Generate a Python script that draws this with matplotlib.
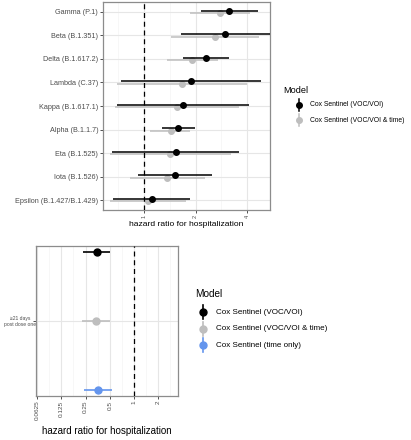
import numpy as np
import matplotlib
matplotlib.use("Agg")
import matplotlib.pyplot as plt
from matplotlib.lines import Line2D

plt.rcParams['font.family'] = ['Liberation Sans', 'DejaVu Sans']

# ---------------- data: top panel ----------------
variants = ["Gamma (P.1)", "Beta (B.1.351)", "Delta (B.1.617.2)", "Lambda (C.37)",
            "Kappa (B.1.617.1)", "Alpha (B.1.1.7)", "Eta (B.1.525)", "Iota (B.1.526)",
            "Epsilon (B.1.427/B.1.429)"]
voc_hr = [3.15, 2.96, 2.30, 1.87, 1.70, 1.59, 1.53, 1.51, 1.11]
voc_lo = [2.15, 1.65, 1.70, 0.73, 0.70, 1.27, 0.65, 0.92, 0.66]
voc_hi = [4.63, 6.50, 3.13, 4.80, 4.13, 1.99, 3.61, 2.49, 1.85]
voct_hr = [2.78, 2.59, 1.91, 1.67, 1.56, 1.43, 1.42, 1.37, 1.06]
voct_lo = [1.86, 1.44, 1.36, 0.70, 0.68, 1.09, 0.63, 0.83, 0.63]
voct_hi = [4.18, 4.68, 2.70, 4.00, 3.58, 1.86, 3.21, 2.27, 1.77]
top_ticks = [1, 2, 4]

# ---------------- data: bottom panel ----------------
bottom_label = "\u226521 days\npost dose one"
bot_models = ["Cox Sentinel (VOC/VOI)", "Cox Sentinel (VOC/VOI & time)", "Cox Sentinel (time only)"]
bot_hr = [0.346, 0.336, 0.352]
bot_lo = [0.232, 0.228, 0.237]
bot_hi = [0.506, 0.496, 0.525]
bot_ticks = [0.0625, 0.125, 0.25, 0.5, 1, 2]
bot_ticklabels = ["0.0625", "0.125", "0.25", "0.5", "1", "2"]

colors = ["#000000", "#BEBEBE", "#6495ED"]
W, H = 411, 440
fig = plt.figure(figsize=(W / 100, H / 100), dpi=100)

def style_axes(ax):
    for s in ax.spines.values():
        s.set_color("#8C8C8C")
        s.set_linewidth(0.9)
    ax.set_facecolor("white")

# ---------------- top panel ----------------
ax1 = fig.add_axes([103 / W, 1 - 210 / H, (270 - 103) / W, 208 / H])
style_axes(ax1)
ax1.set_xscale("log", base=2)
ax1.set_xlim(0.576, 5.45)
n = len(variants)
ypos = np.arange(n)[::-1]
ax1.set_ylim(-0.42, n - 1 + 0.42)
for m in [0.707, 1.414, 2.828]:
    ax1.axvline(m, color="#F4F4F4", lw=0.5, zorder=0)
for t in top_ticks:
    ax1.axvline(t, color="#E6E6E6", lw=0.8, zorder=0)
for y in ypos:
    ax1.axhline(y, color="#E6E6E6", lw=0.8, zorder=0)
off = 0.05
ax1.hlines(ypos - off, voct_lo, voct_hi, color=colors[1], lw=1.1, zorder=2)
ax1.plot(voct_hr, ypos - off, "o", color=colors[1], ms=4, zorder=3)
ax1.hlines(ypos + off, voc_lo, voc_hi, color=colors[0], lw=1.1, zorder=4)
ax1.plot(voc_hr, ypos + off, "o", color=colors[0], ms=4, zorder=5)
ax1.axvline(1, color="black", lw=0.9, ls=(0, (4, 3)), zorder=6)
ax1.set_yticks(ypos)
ax1.set_yticklabels(variants, fontsize=5.2, color="#4D4D4D")
ax1.set_xticks(top_ticks)
ax1.set_xticklabels([str(t) for t in top_ticks], fontsize=4, color="#4D4D4D", rotation=90)
ax1.minorticks_off()
ax1.tick_params(axis="both", length=2, width=0.6, color="#333333", pad=1.5)
ax1.set_xlabel("hazard ratio for hospitalization", fontsize=6.1, labelpad=2)

# top legend
fig.text(283 / W, 1 - 90 / H, "Model", fontsize=6.6, va="center", ha="left")
for i, yy in enumerate([105, 120]):
    fy = 1 - yy / H
    fig.add_artist(Line2D([299 / W, 299 / W], [fy - 6 / H, fy + 6 / H], color=colors[i], lw=1.1))
    fig.add_artist(Line2D([299 / W], [fy], marker="o", color=colors[i], ms=4))
    fig.text(310 / W, fy, bot_models[i], fontsize=4.9, va="center", ha="left")

# ---------------- bottom panel ----------------
ax2 = fig.add_axes([35.7 / W, 1 - 395.7 / H, (178.3 - 35.7) / W, (395.7 - 246) / H])
style_axes(ax2)
ax2.set_xscale("log", base=2)
ax2.set_xlim(0.06, 3.54)
ax2.set_ylim(-1.09, 1.09)
for k in range(len(bot_ticks) - 1):
    ax2.axvline(np.sqrt(bot_ticks[k] * bot_ticks[k + 1]), color="#F4F4F4", lw=0.5, zorder=0)
ax2.axvline(2 * np.sqrt(2), color="#F4F4F4", lw=0.5, zorder=0)
for t in bot_ticks:
    ax2.axvline(t, color="#E6E6E6", lw=0.8, zorder=0)
ax2.axhline(0, color="#E6E6E6", lw=0.8, zorder=0)
boffs = [1, 0, -1]
for i in range(3):
    ax2.hlines(boffs[i], bot_lo[i], bot_hi[i], color=colors[i], lw=1.2, zorder=2)
    ax2.plot(bot_hr[i], boffs[i], "o", color=colors[i], ms=5, zorder=3)
ax2.axvline(1, color="black", lw=0.9, ls=(0, (4, 3)), zorder=6)
ax2.set_yticks([0])
ax2.set_yticklabels([bottom_label], fontsize=3.6, color="#4D4D4D", ha="center")
ax2.set_xticks(bot_ticks)
ax2.set_xticklabels(bot_ticklabels, fontsize=4.6, color="#4D4D4D", rotation=90)
ax2.minorticks_off()
ax2.tick_params(axis="both", length=2, width=0.6, color="#333333", pad=1.5)
ax2.tick_params(axis="y", pad=9)
ax2.set_xlabel("hazard ratio for hospitalization", fontsize=7, labelpad=4)

# bottom legend
fig.text(195 / W, 1 - 294 / H, "Model", fontsize=7.2, va="center", ha="left")
for i, yy in enumerate([312.3, 328.7, 345.3]):
    fy = 1 - yy / H
    fig.add_artist(Line2D([202.7 / W, 202.7 / W], [fy - 7 / H, fy + 7 / H], color=colors[i], lw=1.2))
    fig.add_artist(Line2D([202.7 / W], [fy], marker="o", color=colors[i], ms=5))
    fig.text(216 / W, fy, bot_models[i], fontsize=5.8, va="center", ha="left")

fig.savefig("out.png", dpi=100)
